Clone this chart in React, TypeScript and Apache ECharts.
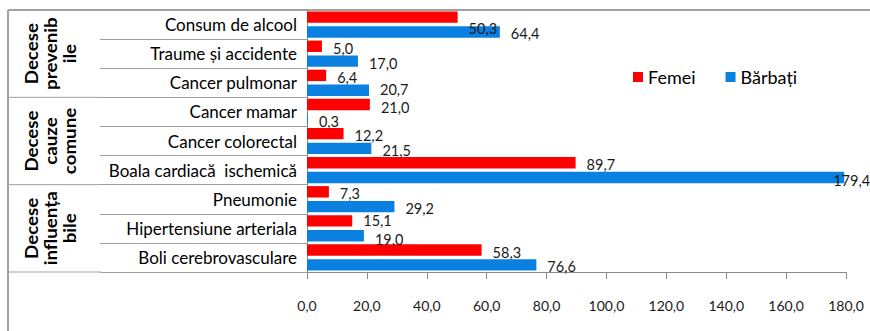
import React, { useEffect, useRef } from "react";
import * as echarts from "echarts";

const categories = [
  "Consum de alcool",
  "Traume și accidente",
  "Cancer pulmonar",
  "Cancer mamar",
  "Cancer colorectal",
  "Boala cardiacă  ischemică",
  "Pneumonie",
  "Hipertensiune arteriala",
  "Boli cerebrovasculare",
];
const femei = [50.3, 5.0, 6.4, 21.0, 12.2, 89.7, 7.3, 15.1, 58.3];
const barbati = [64.4, 17.0, 20.7, 0.3, 21.5, 179.4, 29.2, 19.0, 76.6];
const groupLabels = ["Decese\nprevenib\nile", "Decese\ncauze\ncomune", "Decese\ninfluența\nbile"];
const groupStarts = [0, 3, 6];
const groupEnds = [2, 5, 8];
const xMin = 0;
const xMax = 180;
const xInterval = 20;

const FONT = "Lato, 'Liberation Sans', sans-serif";
const fmt = (v: number) => v.toFixed(1).replace(".", ",");

export default function App() {
  const ref = useRef<HTMLDivElement>(null);
  useEffect(() => {
    document.body.style.margin = "0";
    const chart = echarts.init(ref.current!, undefined, { renderer: "svg" });
    const labelBase = {
      show: true,
      position: "right" as const,
      distance: 0,
      offset: [11, 2],
      fontSize: 14.5,
      lineHeight: 13,
      fontFamily: FONT,
      color: "#1a1a1a",
      formatter: (p: any) => fmt(p.value),
    };
    const femeiOffsets: Record<number, number[]> = { 0: [11, 11], 3: [11, 3], 7: [11, 0] };
    const barbatiOffsets: Record<number, number[]> = { 2: [11, -1], 5: [-11, 3], 7: [11, 4] };
    chart.setOption({
      animation: false,
      grid: { left: 307, right: 24, top: 10, bottom: 59, containLabel: false },
      legend: {
        left: 628,
        top: 63,
        itemWidth: 10,
        itemHeight: 10,
        itemGap: 30,
        icon: "rect",
        textStyle: { fontSize: 18, fontFamily: FONT, color: "#000" },
        data: ["Femei", "Bărbați"],
      },
      xAxis: {
        type: "value",
        min: xMin,
        max: xMax,
        interval: xInterval,
        splitLine: { show: false },
        axisLine: { show: true, lineStyle: { color: "#8c8c8c" } },
        axisTick: { show: true, length: 7, lineStyle: { color: "#8c8c8c" } },
        axisLabel: {
          margin: 26,
          fontSize: 14,
          fontFamily: FONT,
          color: "#1a1a1a",
          formatter: (v: number) => fmt(v),
        },
      },
      yAxis: {
        type: "category",
        inverse: true,
        data: categories,
        axisLine: { show: true, lineStyle: { color: "#8c8c8c" } },
        axisTick: { show: true, length: 207, interval: 0, lineStyle: { color: "#a0a0a0" } },
        axisLabel: { margin: 10, fontSize: 17, fontFamily: FONT, color: "#000", interval: 0 },
      },
      series: [
        {
          type: "bar",
          name: "Femei",
          data: femei.map((v, i) => ({
            value: v,
            label: femeiOffsets[i] ? { offset: femeiOffsets[i] } : undefined,
          })),
          itemStyle: { color: "#ff0000" },
          barGap: "30%",
          barCategoryGap: "10%",
          label: labelBase,
        },
        {
          type: "bar",
          name: "Bărbați",
          data: barbati.map((v, i) => ({
            value: v,
            label: barbatiOffsets[i] ? { offset: barbatiOffsets[i] } : undefined,
          })),
          itemStyle: { color: "#0a80e0" },
          barGap: "30%",
          barCategoryGap: "10%",
          label: labelBase,
        },
      ],
    });

    const y0 = chart.convertToPixel({ yAxisIndex: 0 }, 0) as number;
    const y1 = chart.convertToPixel({ yAxisIndex: 0 }, 1) as number;
    const band = y1 - y0;
    const top = y0 - band / 2;
    const graphics: any[] = [
      { type: "line", shape: { x1: 8, y1: top, x2: 870, y2: top }, style: { stroke: "#a0a0a0", lineWidth: 2 } },
      { type: "line", shape: { x1: 8, y1: top, x2: 8, y2: 331 }, style: { stroke: "#a0a0a0", lineWidth: 2 } },
    ];
    groupLabels.forEach((lab, g) => {
      const ys = chart.convertToPixel({ yAxisIndex: 0 }, groupStarts[g]) as number;
      const ye = chart.convertToPixel({ yAxisIndex: 0 }, groupEnds[g]) as number;
      const bottomY = ye + band / 2;
      graphics.push({
        type: "line",
        shape: { x1: 8, y1: bottomY, x2: 101, y2: bottomY },
        style: { stroke: "#a0a0a0", lineWidth: 1 },
      });
      graphics.push({
        type: "text",
        x: 50,
        y: (ys + ye) / 2,
        rotation: Math.PI / 2,
        scaleX: 1.1,
        style: {
          text: lab,
          fontSize: 17,
          fontWeight: "bold",
          fontFamily: FONT,
          fill: "#000",
          align: "center",
          verticalAlign: "middle",
          lineHeight: 19,
        },
      });
    });
    chart.setOption({ graphic: graphics });
    return () => chart.dispose();
  }, []);
  return <div ref={ref} style={{ width: 870, height: 331 }} />;
}
